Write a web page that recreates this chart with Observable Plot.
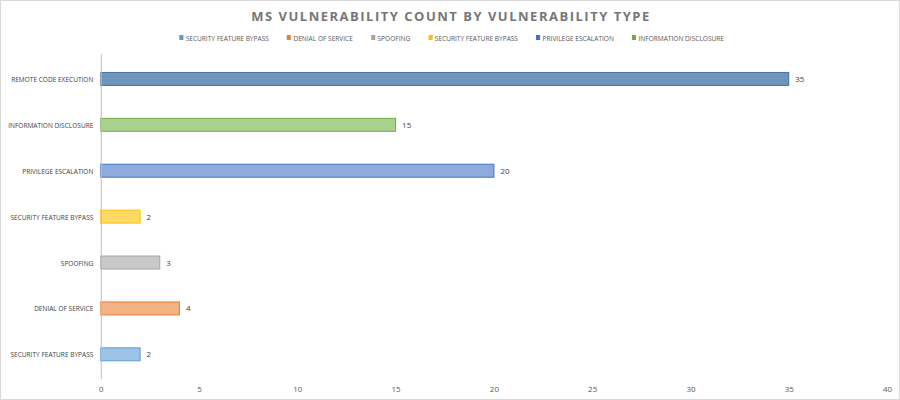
<!DOCTYPE html>
<html>
<head>
<meta charset="utf-8">
<script src="https://cdn.jsdelivr.net/npm/d3@7"></script>
<script src="https://cdn.jsdelivr.net/npm/@observablehq/plot@0.6"></script>
<style>
  body { margin: 0; background: #fff; }
  #wrap { position: relative; width: 900px; height: 400px; box-sizing: border-box; border: 1px solid #d9d9d9; overflow: hidden; font-family: "Open Sans", sans-serif; }
  #title { position: absolute; top: 6px; left: 0; width: 900px; text-align: center; font-family: "Open Sans", sans-serif; font-weight: bold; font-size: 13px; letter-spacing: 1.5px; color: #767676; }
  #legend { position: absolute; top: 31px; left: 0; width: 900px; display: flex; justify-content: center; gap: 22px; font-size: 8px; color: #595959; transform: scaleX(0.82); transform-origin: 453px 0; }
  #legend span.item { display: flex; align-items: center; gap: 3px; }
  #legend i { display: inline-block; width: 5px; height: 5px; }
  #chart { position: absolute; top: 48px; left: 0; }
</style>
</head>
<body>
<div id="wrap">
  <div id="title">MS VULNERABILITY COUNT BY VULNERABILITY TYPE</div>
  <div id="legend"></div>
  <div id="chart"></div>
</div>
<script>
// bottom-to-top order
const categories = ["SECURITY FEATURE BYPASS", "DENIAL OF SERVICE", "SPOOFING", "SECURITY FEATURE BYPASS", "PRIVILEGE ESCALATION", "INFORMATION DISCLOSURE", "REMOTE CODE EXECUTION"];
const counts = [2, 4, 3, 2, 20, 15, 35];
const fills = ["#9DC3E6", "#F4B183", "#C9C9C9", "#FFD966", "#8FAADC", "#A9D18E", "#7095BD"];
const strokes = ["#5B9BD5", "#ED7D31", "#A5A5A5", "#FFC000", "#4472C4", "#70AD47", "#41719C"];
const legendLabels = ["SECURITY FEATURE BYPASS", "DENIAL OF SERVICE", "SPOOFING", "SECURITY FEATURE BYPASS", "PRIVILEGE ESCALATION", "INFORMATION DISCLOSURE"];
const legendColors = ["#5B9BD5", "#ED7D31", "#A5A5A5", "#FFC000", "#4472C4", "#70AD47"];
const xTicks = [0, 5, 10, 15, 20, 25, 30, 35, 40];

const data = categories.map((c, i) => ({id: "c" + i, label: c, count: counts[i], fill: fills[i], stroke: strokes[i]}));
const labelOf = Object.fromEntries(data.map(d => [d.id, d.label]));

const legend = document.getElementById("legend");
legendLabels.forEach((l, i) => {
  const s = document.createElement("span");
  s.className = "item";
  s.innerHTML = `<i style="background:${legendColors[i]}"></i>${l}`;
  legend.appendChild(s);
});

const chart = Plot.plot({
  width: 900,
  height: 352,
  marginLeft: 100,
  marginRight: 12,
  marginTop: 5,
  marginBottom: 21,
  style: {fontFamily: "'Open Sans', sans-serif", fontSize: "8px", color: "#595959", background: "transparent"},
  x: {domain: [0, 40]},
  y: {domain: data.map(d => d.id).reverse(), padding: 0},
  color: {type: "identity"},
  marks: [
    Plot.barX(data, {x: "count", y: "id", fill: "fill", stroke: "stroke", strokeWidth: 1, insetTop: 16.5, insetBottom: 16.5}),
    Plot.ruleX([0], {stroke: "#bfbfbf"}),
    Plot.text(data, {x: "count", y: "id", text: d => String(d.count), dx: 6, textAnchor: "start", fill: "#404040", fontSize: 8}),
    Plot.axisX({ticks: xTicks, tickSize: 0, tickPadding: 7, label: null, fill: "#595959"}),
    Plot.axisY({tickSize: 0, tickPadding: 8, label: null, tickFormat: d => labelOf[d], fill: "#404040"})
  ]
});
document.getElementById("chart").appendChild(chart);
// condense the category labels horizontally (the original uses a narrow face), keeping right edges fixed
chart.querySelectorAll('g[aria-label="y-axis tick label"] text').forEach(t => {
  const b = t.getBBox();
  const r = b.x + b.width;
  const prev = t.getAttribute("transform") || "";
  t.setAttribute("transform", `${prev} translate(${r},0) scale(0.82,1) translate(${-r},0)`);
});
</script>
</body>
</html>
